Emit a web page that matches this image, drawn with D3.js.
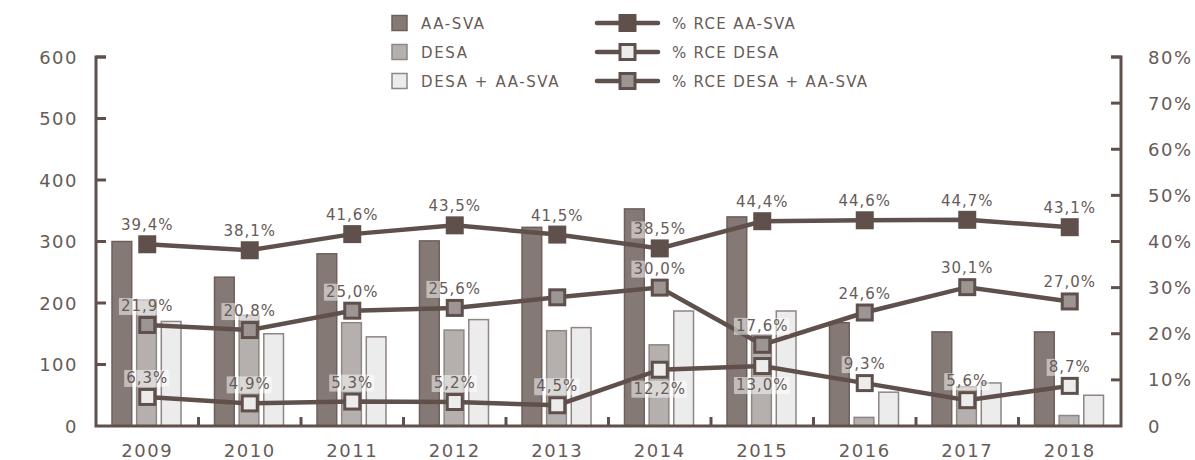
<!DOCTYPE html>
<html>
<head>
<meta charset="utf-8">
<script src="https://cdn.jsdelivr.net/npm/d3@7/dist/d3.min.js"></script>
<style>
  body { margin: 0; background: #fff; }
  svg text { font-family: "DejaVu Sans", sans-serif; fill: #675b58; }
</style>
</head>
<body>
<svg id="chart" width="1195" height="460"></svg>
<script>
// data
var years = ["2009","2010","2011","2012","2013","2014","2015","2016","2017","2018"];
var barSeries = ["AA-SVA","DESA","DESA + AA-SVA"];
var aaSva   = [300, 242, 280, 301, 323, 353, 340, 168, 153, 153];
var desa    = [205, 180, 168, 156, 155, 132, 148, 14, 64, 17];
var desaAa  = [170, 150, 145, 173, 160, 187, 187, 55, 70, 50];
var lineSeries = ["% RCE AA-SVA","% RCE DESA","% RCE DESA + AA-SVA"];
var pctAaSva  = [39.4, 38.1, 41.6, 43.5, 41.5, 38.5, 44.4, 44.6, 44.7, 43.1];
var pctDesa   = [6.3, 4.9, 5.3, 5.2, 4.5, 12.2, 13.0, 9.3, 5.6, 8.7];
var pctDesaAa = [21.9, 20.8, 25.0, 25.6, 27.9, 30.0, 17.6, 24.6, 30.1, 27.0];
var leftTicks  = [0, 100, 200, 300, 400, 500, 600];
var rightTicks = [0, 10, 20, 30, 40, 50, 60, 70, 80];

var dark = "#5f504c";
var barFill   = ["#857976", "#b5b0ae", "#ececec"];
var barStroke = ["#6c5f5c", "#8f8583", "#8f8583"];
var markFill  = ["#5f504c", "#ececec", "#9c9593"];

var mLeft = 96, mRight = 1121, mTop = 57, mBottom = 426;
var svg = d3.select("#chart");

var x0 = d3.scaleBand().domain(years).range([mLeft, mRight]);
var x1 = d3.scaleBand().domain(barSeries).range([16, 85]).paddingInner(0.2);
var y = d3.scaleLinear().domain([0, 600]).range([mBottom, mTop]);
var y2 = d3.scaleLinear().domain([0, 80]).range([mBottom, mTop]);

// bars
var barData = [aaSva, desa, desaAa];
var groups = svg.append("g").selectAll("g")
  .data(years).enter().append("g")
  .attr("transform", function(d) { return "translate(" + x0(d) + ",0)"; });

groups.selectAll("rect")
  .data(function(d, i) { return barSeries.map(function(s, j) { return {s: s, j: j, v: barData[j][i]}; }); })
  .enter().append("rect")
  .attr("x", function(d) { return x1(d.s); })
  .attr("width", x1.bandwidth())
  .attr("y", function(d) { return y(d.v); })
  .attr("height", function(d) { return mBottom - y(d.v); })
  .attr("fill", function(d) { return barFill[d.j]; })
  .attr("stroke", function(d) { return barStroke[d.j]; })
  .attr("stroke-width", 1.5);

// axes
var axisG = svg.append("g");
axisG.append("path")
  .attr("d", "M" + (mLeft + 10) + "," + mTop + "H" + mLeft + "V" + mBottom + "H" + mRight + "V" + mTop + "H" + (mRight - 10))
  .attr("fill", "none").attr("stroke", dark).attr("stroke-width", 3);

axisG.selectAll(".lt").data(leftTicks.slice(1)).enter().append("line")
  .attr("x1", mLeft).attr("x2", mLeft + 10)
  .attr("y1", function(d) { return y(d); }).attr("y2", function(d) { return y(d); })
  .attr("stroke", dark).attr("stroke-width", 3);
axisG.selectAll(".rt").data(rightTicks.slice(1)).enter().append("line")
  .attr("x1", mRight).attr("x2", mRight - 10)
  .attr("y1", function(d) { return y2(d); }).attr("y2", function(d) { return y2(d); })
  .attr("stroke", dark).attr("stroke-width", 3);
axisG.selectAll(".bt").data(years.slice(1)).enter().append("line")
  .attr("x1", function(d) { return x0(d); }).attr("x2", function(d) { return x0(d); })
  .attr("y1", mBottom).attr("y2", mBottom - 9)
  .attr("stroke", dark).attr("stroke-width", 3);

axisG.selectAll(".ll").data(leftTicks).enter().append("text")
  .attr("x", 78).attr("y", function(d) { return y(d) + 6.5; })
  .attr("text-anchor", "end").style("font-size", "18px").style("letter-spacing", "1.5px")
  .text(function(d) { return d; });
axisG.selectAll(".rl").data(rightTicks).enter().append("text")
  .attr("x", 1148).attr("y", function(d) { return y2(d) + 6.5; })
  .style("font-size", "18px").style("letter-spacing", "1.5px")
  .text(function(d) { return d === 0 ? "0" : d + "%"; });
axisG.selectAll(".yl").data(years).enter().append("text")
  .attr("x", function(d) { return x0(d) + x0.bandwidth() / 2; }).attr("y", 457)
  .attr("text-anchor", "middle").style("font-size", "18px").style("letter-spacing", "1.5px")
  .text(function(d) { return d; });

// lines
var lineData = [pctAaSva, pctDesa, pctDesaAa];
var cx = function(i) { return x0(years[i]) + x0.bandwidth() / 2; };
var line = d3.line().x(function(d, i) { return cx(i); }).y(function(d) { return y2(d); });
var fmt = function(v) { return v.toFixed(1).replace(".", ",") + "%"; };

lineData.forEach(function(vals, k) {
  svg.append("path").datum(vals).attr("d", line)
    .attr("fill", "none").attr("stroke", dark).attr("stroke-width", 4.5);
});
lineData.forEach(function(vals, k) {
  svg.append("g").selectAll("rect").data(vals).enter().append("rect")
    .attr("x", function(d, i) { return cx(i) - 7.5; })
    .attr("y", function(d) { return y2(d) - 7.5; })
    .attr("width", 15).attr("height", 15)
    .attr("fill", markFill[k]).attr("stroke", dark).attr("stroke-width", 3);
});

// value labels
var below = {"1-2014": true, "1-2015": true};
var skip = {"2-2013": true};
var labG = svg.append("g");
lineData.forEach(function(vals, k) {
  vals.forEach(function(v, i) {
    if (skip[k + "-" + years[i]]) return;
    var ty = below[k + "-" + years[i]] ? y2(v) + 24 : y2(v) - 14;
    var g = labG.append("g");
    var bg = g.append("rect").attr("fill", "#fff").attr("opacity", 0.5);
    var t = g.append("text").attr("x", cx(i)).attr("y", ty)
      .attr("text-anchor", "middle").style("font-size", "15px").style("letter-spacing", "1px")
      .text(fmt(v));
    var b = t.node().getBBox();
    bg.attr("x", b.x - 2).attr("y", b.y + 1).attr("width", b.width + 3).attr("height", b.height - 1);
  });
});

// legend
var leg = svg.append("g");
barSeries.forEach(function(s, j) {
  var ly = 23 + j * 29;
  leg.append("rect").attr("x", 392).attr("y", ly - 7.5).attr("width", 15).attr("height", 15)
    .attr("fill", barFill[j]).attr("stroke", barStroke[j]).attr("stroke-width", 1.5);
  leg.append("text").attr("x", 421).attr("y", ly + 5.5)
    .style("font-size", "15px").style("letter-spacing", "1.6px").text(s);
});
lineSeries.forEach(function(s, j) {
  var ly = 23 + j * 29;
  leg.append("line").attr("x1", 597).attr("x2", 658).attr("y1", ly).attr("y2", ly)
    .attr("stroke", dark).attr("stroke-width", 4.5).attr("stroke-linecap", "round");
  leg.append("rect").attr("x", 620).attr("y", ly - 7.5).attr("width", 15).attr("height", 15)
    .attr("fill", markFill[j]).attr("stroke", dark).attr("stroke-width", 3);
  leg.append("text").attr("x", 672).attr("y", ly + 5.5)
    .style("font-size", "15px").style("letter-spacing", "1.3px").text(s);
});
</script>
</body>
</html>
